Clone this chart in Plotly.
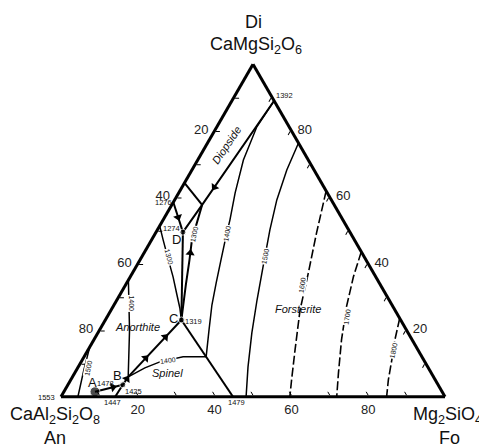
import math
import plotly.graph_objects as go

# Compositions are (Di, An, Fo) in wt%.
# Invariant and reference points
P1392 = (89.0, 0.0, 11.0)
Q = (57.7, 34.4, 7.9)
L_EDGE = (64.3, 35.7, 0.0)
E1276 = (58.5, 41.5, 0.0)
D = (49.5, 43.5, 7.0)
C = (23.1, 57.1, 19.8)
F = (12.0, 56.2, 31.8)
S1479 = (0.0, 55.2, 44.8)
B = (6.0, 79.5, 14.5)
P1425 = (3.6, 82.1, 14.3)
A = (1.5, 90.4, 8.1)
S1447 = (0.0, 85.9, 14.1)

# Field boundaries (solid, heavier)
di_fo_boundary = [P1392, Q, D]
an_di_boundary = [E1276, D]
edge_tie = [L_EDGE, Q]
d_to_c = [D, C]
c_to_q = [C, (33.6, 50.7, 15.7), (41.1, 46.0, 12.9), (47.2, 42.3, 10.5), Q]
c_to_base = [C, S1479]
b_to_c = [B, C]
a_to_p = [A, P1425]
base_to_b = [S1447, P1425, B]

# Isotherms
iso_1300_an = [(51.4, 48.6, 0.0), (47.2, 49.8, 3.0), (41.7, 51.3, 7.0), (36.0, 52.8, 11.2),
               (30.6, 54.5, 14.9), (26.7, 55.7, 17.6), C]
iso_1400_an = [(35.1, 64.9, 0.0), (20.1, 72.1, 7.8), B]
iso_1500_an = [(15.0, 85.0, 0.0), (8.1, 90.0, 1.9), (0.0, 95.6, 4.4)]
iso_1400_sp = [F, (12.0, 62.2, 25.8), (10.5, 69.0, 20.5), (8.7, 73.8, 17.5), B]
iso_1400_fo = [P1392, (81.2, 8.4, 10.4), (71.2, 16.9, 11.9), (61.3, 24.0, 14.7), (53.2, 29.4, 17.4),
               (48.4, 32.8, 18.8), (41.1, 37.8, 21.1), (34.2, 42.5, 23.3), (27.6, 46.9, 25.5),
               (20.1, 51.4, 28.5), F]
iso_1500_fo = [(76.3, 0.0, 23.7), (68.2, 7.1, 24.7), (59.2, 14.2, 26.6), (50.2, 20.5, 29.3),
               (39.0, 27.9, 33.1), (29.1, 34.4, 36.5), (19.2, 40.7, 40.1), (9.0, 46.8, 44.2),
               (0.0, 51.8, 48.2)]
iso_1600_fo = [(61.9, 0.0, 38.1), (49.3, 8.8, 41.9), (37.2, 17.0, 45.8), (26.1, 24.7, 49.2),
               (14.1, 32.0, 53.9), (5.1, 37.4, 57.5), (0.0, 40.4, 59.6)]
iso_1700_fo = [(43.6, 0.0, 56.4), (36.1, 5.8, 58.1), (27.1, 12.1, 60.8), (17.1, 18.4, 64.5),
               (7.1, 24.2, 68.7), (0.0, 28.2, 71.8)]
iso_1800_fo = [(23.6, 0.0, 76.4), (17.1, 4.5, 78.4), (11.1, 8.3, 80.6), (5.1, 12.2, 82.7),
               (0.0, 15.2, 84.8)]

# Crystallisation-path arrows: (from, to, fraction along segment)
arrows = [
    (P1392, Q, 0.83),
    (E1276, D, 0.5),
    (c_to_q[2], c_to_q[3], 0.35),
    (B, C, 0.33),
    (B, C, 0.70),
    (A, P1425, 0.65),
    (P1425, B, 0.75),
]

# Tick values along each side (labels read as the complementary component)
tick_vals = [10, 20, 30, 40, 50, 60, 70, 80, 90]
tick_text = ["", "80", "", "60", "", "40", "", "20", ""]

FONT = "Arial, Liberation Sans, sans-serif"
NBSP = "\u00a0"


def tern(pts):
    return dict(a=[p[0] for p in pts], b=[p[1] for p in pts], c=[p[2] for p in pts])


def screen(p):
    di, an, fo = p
    s = di + an + fo
    return (fo + di / 2) / s, (di * math.sqrt(3) / 2) / s


fig = go.Figure()


def add_line(pts, width, dash="solid"):
    fig.add_trace(go.Scatterternary(
        **tern(pts), mode="lines", cliponaxis=False,
        line=dict(color="black", width=width, dash=dash),
        hoverinfo="skip", showlegend=False))


for curve in [di_fo_boundary, an_di_boundary, edge_tie, d_to_c, c_to_q, c_to_base,
              b_to_c, a_to_p, base_to_b]:
    add_line(curve, 2.0)

for curve in [iso_1300_an, iso_1400_an, iso_1500_an, iso_1400_sp, iso_1400_fo, iso_1500_fo]:
    add_line(curve, 1.5)

for curve in [iso_1600_fo, iso_1700_fo, iso_1800_fo]:
    add_line(curve, 1.6, dash="9px,3px")

# Arrow heads oriented along their segments
arr_pts, arr_ang = [], []
for p0, p1, t in arrows:
    arr_pts.append(tuple(p0[i] + t * (p1[i] - p0[i]) for i in range(3)))
    x0, y0 = screen(p0)
    x1, y1 = screen(p1)
    arr_ang.append(math.degrees(math.atan2(x1 - x0, y1 - y0)))
fig.add_trace(go.Scatterternary(
    **tern(arr_pts), mode="markers", cliponaxis=False,
    marker=dict(symbol="triangle-up", size=8, color="black", angle=arr_ang, line=dict(width=0)),
    hoverinfo="skip", showlegend=False))

# Invariant points
fig.add_trace(go.Scatterternary(
    **tern([A, P1425, C, D]), mode="markers", cliponaxis=False,
    marker=dict(size=[10, 6, 6, 6], color="black"),
    hoverinfo="skip", showlegend=False))

axis_common = dict(
    tickmode="array", tickvals=tick_vals,
    ticks="inside", ticklen=4, tickwidth=1, tickcolor="black",
    linecolor="black", linewidth=3, showgrid=False,
    tickfont=dict(family=FONT, size=13, color="#222"),
    title=dict(text=""), min=0,
)

fig.update_layout(
    width=479, height=445,
    margin=dict(l=61, r=34, t=64, b=48),
    paper_bgcolor="white",
    font=dict(family=FONT, color="black"),
    ternary=dict(
        sum=100, bgcolor="white",
        aaxis=dict(axis_common, ticktext=[t + NBSP if t else t for t in tick_text]),
        baxis=dict(axis_common, ticktext=tick_text),
        caxis=dict(axis_common, ticktext=[NBSP + t if t else t for t in tick_text]),
    ),
)

# Text placed in paper coordinates of the plot area
labels = [
    # text, x, y, size, angle, italic, white background
    ("Di", 0.50, 1.126, 18, 0, False, False),
    ("CaMgSi<sub>2</sub>O<sub>6</sub>", 0.508, 1.055, 18, 0, False, False),
    ("CaAl<sub>2</sub>Si<sub>2</sub>O<sub>8</sub>", -0.016, -0.055, 18, 0, False, False),
    ("An", -0.015, -0.122, 18, 0, False, False),
    ("Mg<sub>2</sub>SiO<sub>4</sub>", 1.006, -0.055, 18, 0, False, False),
    ("Fo", 1.012, -0.122, 18, 0, False, False),
    ("1392", 0.582, 0.904, 7.5, 0, False, False),
    ("1276", 0.268, 0.583, 7.5, 0, False, False),
    ("1274", 0.289, 0.505, 7.5, 0, False, False),
    ("1319", 0.346, 0.228, 7.5, 0, False, False),
    ("1478", 0.115, 0.042, 7.5, 0, False, False),
    ("1425", 0.1875, 0.018, 7.5, 0, False, False),
    ("1447", 0.133, -0.018, 7.5, 0, False, False),
    ("1553", -0.039, -0.003, 7.5, 0, False, False),
    ("1479", 0.458, -0.018, 7.5, 0, False, False),
    ("D", 0.302, 0.474, 13, 0, False, False),
    ("C", 0.292, 0.237, 13, 0, False, False),
    ("A", 0.081, 0.045, 13, 0, False, False),
    ("B", 0.146, 0.066, 13, 0, False, False),
    ("Anorthite", 0.199, 0.210, 11, 0, True, False),
    ("Spinel", 0.277, 0.072, 11, 0, True, False),
    ("Forsterite", 0.617, 0.264, 11, 0, True, False),
    ("Diopside", 0.431, 0.757, 11, -56, True, False),
    ("1500", 0.070, 0.087, 7, -78, False, True),
    ("1400", 0.184, 0.282, 7, 90, False, True),
    ("1300", 0.282, 0.420, 7, 75, False, True),
    ("1300", 0.346, 0.489, 7, -78, False, True),
    ("1400", 0.4336, 0.4895, 7, -80, False, True),
    ("1500", 0.531, 0.423, 7, -80, False, True),
    ("1600", 0.627, 0.336, 7, -82, False, True),
    ("1700", 0.744, 0.240, 7, -82, False, True),
    ("1800", 0.865, 0.141, 7, -78, False, True),
    ("1400", 0.279, 0.111, 7, -8, False, True),
]
for text, x, y, size, ang, ital, bg in labels:
    fig.add_annotation(
        text=f"<i>{text}</i>" if ital else text,
        x=x, y=y, xref="paper", yref="paper", showarrow=False,
        xanchor="center", yanchor="middle", textangle=ang,
        font=dict(family=FONT, size=size, color="#111"),
        bgcolor="white" if bg else None, borderpad=0,
    )

fig.write_html("out.html")
